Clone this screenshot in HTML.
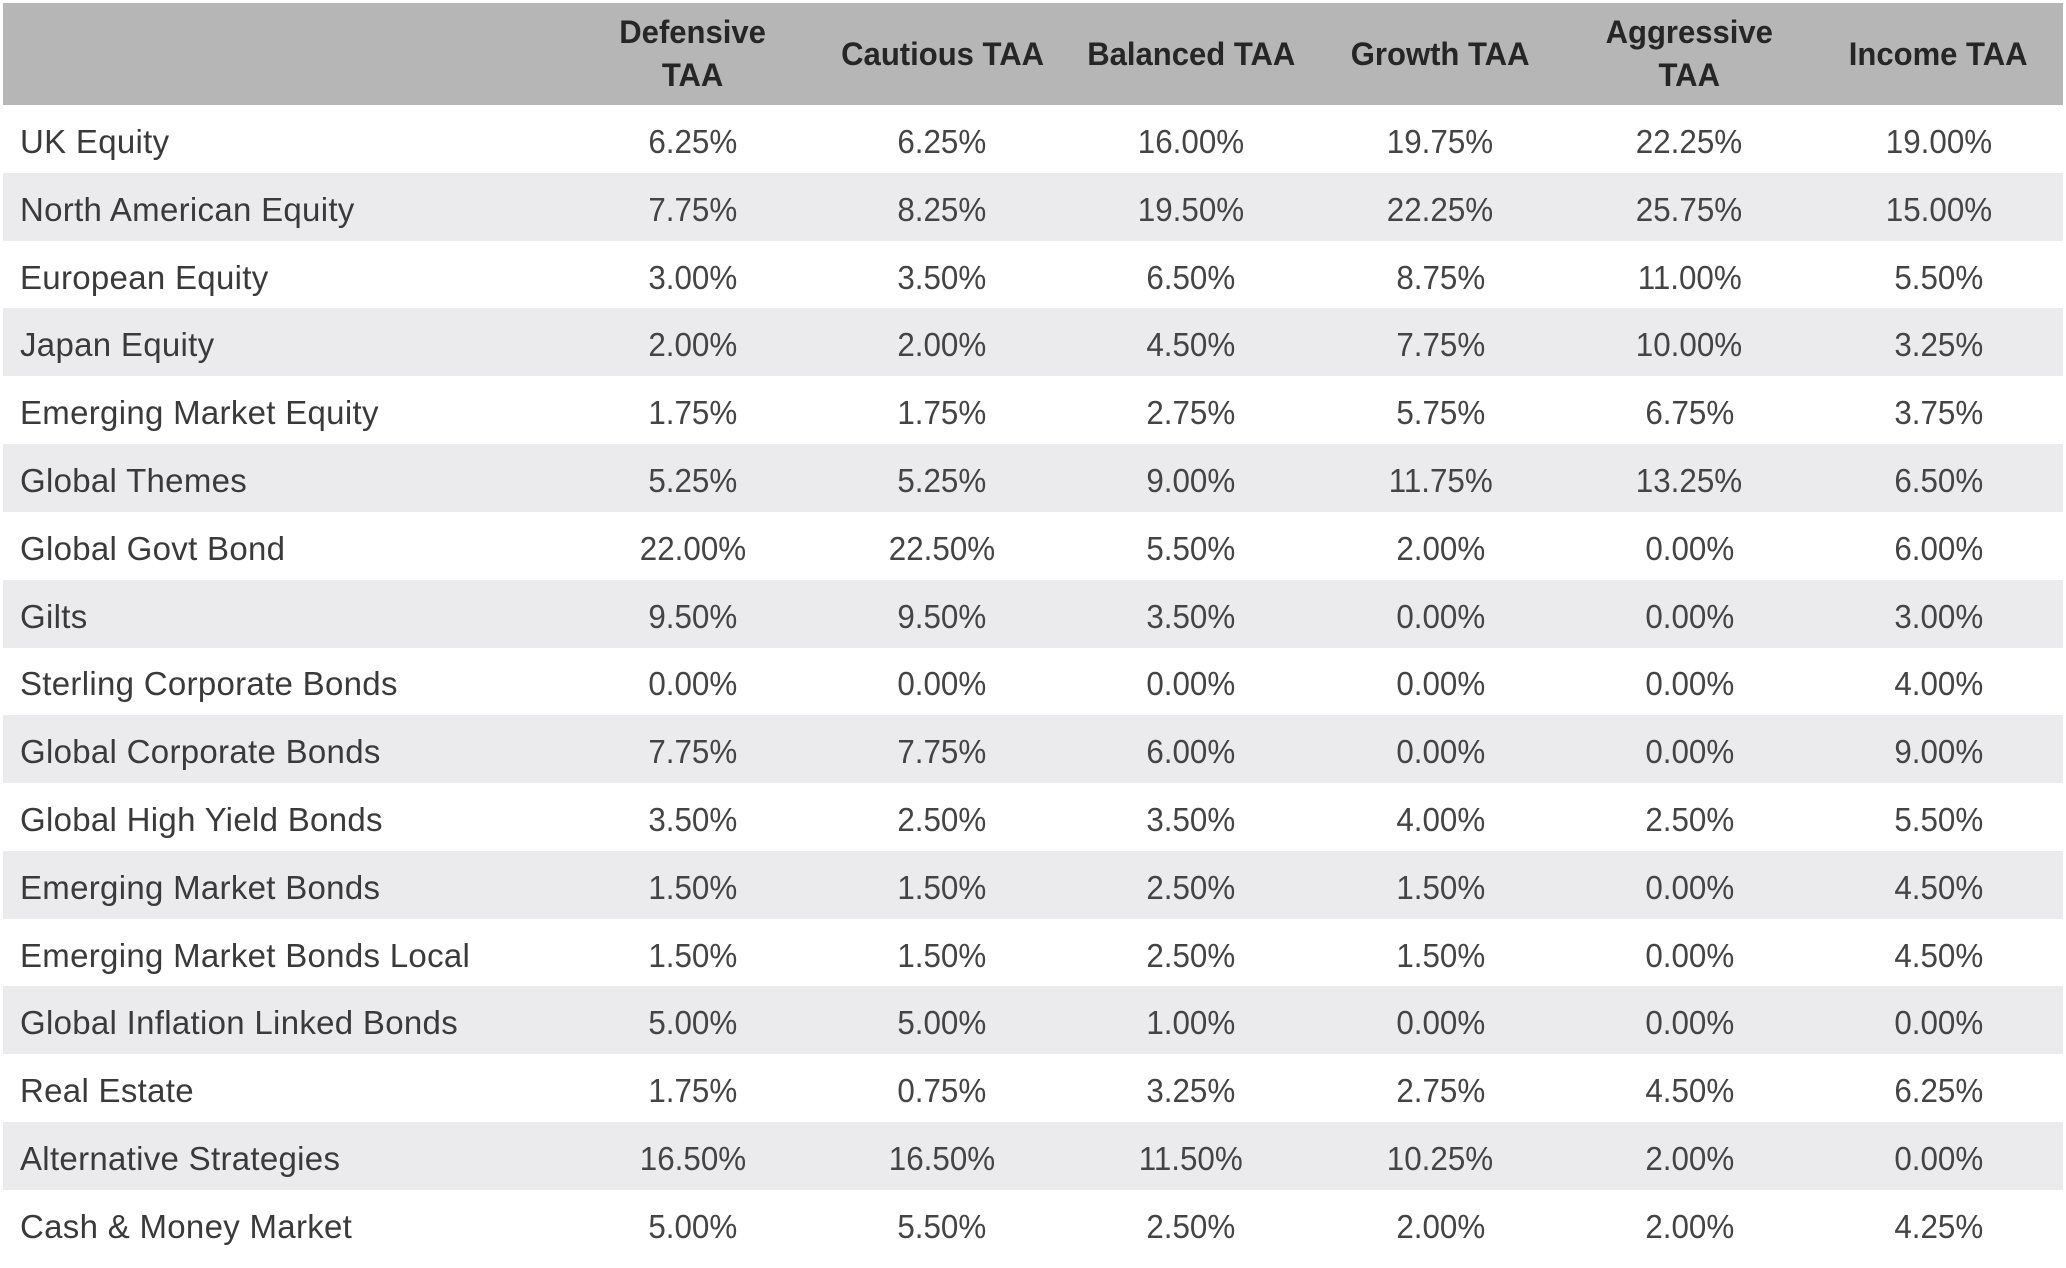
<!DOCTYPE html>
<html><head><meta charset="utf-8">
<style>
html,body{margin:0;padding:0;background:#fff;}
body{width:2066px;height:1268px;position:relative;overflow:hidden;font-family:"Liberation Sans",sans-serif;}
#tbl{position:absolute;left:3px;top:3px;width:2060px;}
.hdr{position:absolute;left:0;top:0;width:2060px;height:102px;background:#b6b6b6;}
.hc{position:absolute;top:0;height:102px;display:flex;align-items:center;justify-content:center;text-align:center;font-weight:bold;font-size:32px;line-height:43px;color:#262626;}
.hc span{display:inline-block;transform:scaleX(0.97);}
.row{position:absolute;left:0;width:2060px;height:68px;}
.row.alt{background:#ebebed;}
.lbl{position:absolute;left:17px;top:3px;height:68px;line-height:68px;font-size:33px;color:#3a3a3a;letter-spacing:0.3px;}
.val{position:absolute;top:3px;height:68px;line-height:68px;font-size:33px;color:#444;text-align:center;width:249px;}
.val span{display:inline-block;transform:scaleX(0.95);}
</style></head>
<body>
<div id="tbl">
  <div class="hdr"></div>
</div>
<script>
const columns = ["Defensive<br>TAA","Cautious TAA","Balanced TAA","Growth TAA","Aggressive<br>TAA","Income TAA"];
const categories = ["UK Equity","North American Equity","European Equity","Japan Equity","Emerging Market Equity","Global Themes","Global Govt Bond","Gilts","Sterling Corporate Bonds","Global Corporate Bonds","Global High Yield Bonds","Emerging Market Bonds","Emerging Market Bonds Local","Global Inflation Linked Bonds","Real Estate","Alternative Strategies","Cash & Money Market"];
const defensive = [6.25,7.75,3.00,2.00,1.75,5.25,22.00,9.50,0.00,7.75,3.50,1.50,1.50,5.00,1.75,16.50,5.00];
const cautious = [6.25,8.25,3.50,2.00,1.75,5.25,22.50,9.50,0.00,7.75,2.50,1.50,1.50,5.00,0.75,16.50,5.50];
const balanced = [16.00,19.50,6.50,4.50,2.75,9.00,5.50,3.50,0.00,6.00,3.50,2.50,2.50,1.00,3.25,11.50,2.50];
const growth = [19.75,22.25,8.75,7.75,5.75,11.75,2.00,0.00,0.00,0.00,4.00,1.50,1.50,0.00,2.75,10.25,2.00];
const aggressive = [22.25,25.75,11.00,10.00,6.75,13.25,0.00,0.00,0.00,0.00,2.50,0.00,0.00,0.00,4.50,2.00,2.00];
const income = [19.00,15.00,5.50,3.25,3.75,6.50,6.00,3.00,4.00,9.00,5.50,4.50,4.50,0.00,6.25,0.00,4.25];
const series = [defensive,cautious,balanced,growth,aggressive,income];

const tbl = document.getElementById('tbl');
const hdr = tbl.querySelector('.hdr');
const colLeft = 565.5, colW = 249.1, headH = 102, rowH = 67.8;
columns.forEach((c,i)=>{
  const h = document.createElement('div');
  h.className = 'hc';
  
  
  h.style.left = (colLeft + i*colW - 10) + 'px';
  h.style.width = (colW + 20) + 'px';
  h.innerHTML = '<span>' + c + '</span>';
  hdr.appendChild(h);
});
categories.forEach((cat,r)=>{
  const row = document.createElement('div');
  row.className = 'row' + (r % 2 === 1 ? ' alt' : '');
  
  
  row.style.top = (headH + r*rowH) + 'px';
  const l = document.createElement('div');
  l.className = 'lbl';
  
  
  l.textContent = cat;
  row.appendChild(l);
  series.forEach((s,ci)=>{
    const v = document.createElement('div');
    v.className = 'val';
    
    
    v.style.left = (colLeft + ci*colW) + 'px';
    v.innerHTML = '<span>' + s[r].toFixed(2) + '%</span>';
    row.appendChild(v);
  });
  tbl.appendChild(row);
});
</script>
</body></html>
